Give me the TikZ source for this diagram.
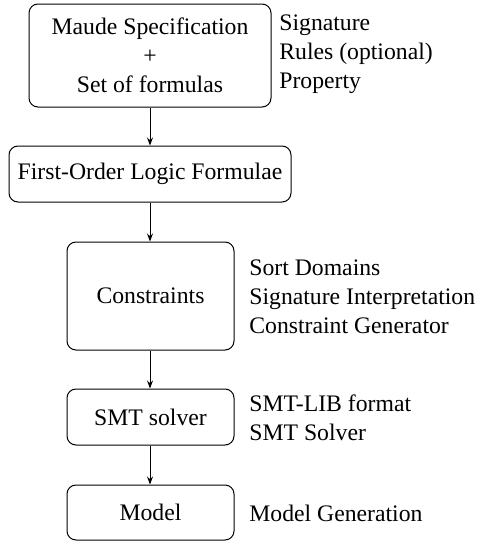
\documentclass[tikz,border=0pt]{standalone}
\usepackage{fontspec}
\setmainfont{Liberation Serif}
\usetikzlibrary{arrows.meta}
\begin{document}
\begin{tikzpicture}[x=0.5pt,y=-0.5pt,
  font=\fontsize{11.85pt}{14.5pt}\selectfont,
  box/.style={draw,rounded corners=4.5pt,line width=0.5pt,align=center,inner sep=0pt},
  lbl/.style={anchor=west,align=left,inner sep=0pt},
  conn/.style={line width=0.5pt,-{Stealth[length=4pt,width=3pt]}}]
\useasboundingbox (0,0) rectangle (479,542);
\node[box,minimum width=121pt,minimum height=51.5pt] (b1) at (150,55.5) {Maude Specification\\+\\Set of formulas};
\node[box,minimum width=141pt,minimum height=28pt] (b2) at (150,174) {First-Order Logic Formulae};
\node[box,minimum width=83.5pt,minimum height=54pt] (b3) at (150.5,296) {Constraints};
\node[box,minimum width=83.5pt,minimum height=28pt] (b4) at (150.5,417) {SMT solver};
\node[box,minimum width=83.5pt,minimum height=27.5pt] (b5) at (150.5,512.5) {Model};
\node[lbl] (l1) at (279,54) {Signature\\Rules (optional)\\Property};
\node[lbl] (l3) at (249,297) {Sort Domains\\Signature Interpretation\\Constraint Generator};
\node[lbl] (l4) at (249,418) {SMT-LIB format\\SMT Solver};
\node[lbl] (l5) at (249,513) {Model Generation};
\draw[conn] (b1.south -| 150,0) -- (b2.north -| 150,0);
\draw[conn] (b2.south -| 150,0) -- (b3.north -| 150,0);
\draw[conn] (b3.south -| 150,0) -- (b4.north -| 150,0);
\draw[conn] (b4.south -| 150,0) -- (b5.north -| 150,0);
\end{tikzpicture}
\end{document}
